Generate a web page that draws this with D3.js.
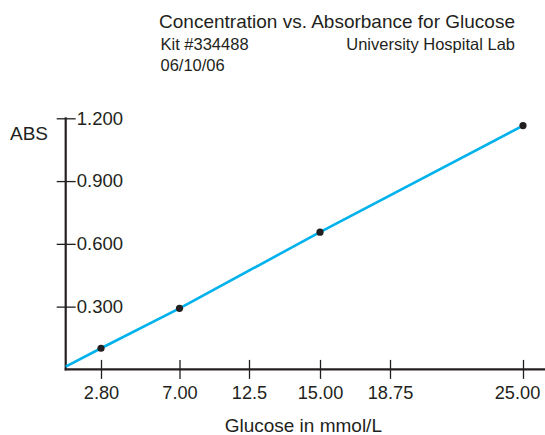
<!DOCTYPE html>
<html>
<head>
<meta charset="utf-8">
<script src="https://cdn.jsdelivr.net/npm/d3@7"></script>
<style>
  html, body { margin: 0; padding: 0; background: #fff; }
  svg { display: block; font-family: "Liberation Sans", Arial, Helvetica, sans-serif; }
</style>
</head>
<body>
<svg id="chart" width="545" height="435"></svg>
<script>
// ---- data ----
const glucose = [2.80, 7.00, 15.00, 25.00];          // mmol/L
const absorbance = [0.101, 0.292, 0.656, 1.165];     // ABS
const lineStart = [0, 0.013];                        // calibration line start
const xTickValues = [2.80, 7.00, 12.5, 15.00, 18.75, 25.00];
const xTickLabels = ["2.80", "7.00", "12.5", "15.00", "18.75", "25.00"];
const yTickValues = [0.3, 0.6, 0.9, 1.2];
const yTickLabels = ["0.300", "0.600", "0.900", "1.200"];
const titleText = "Concentration vs. Absorbance for Glucose";
const subLeft = ["Kit #334488", "06/10/06"];
const subRight = "University Hospital Lab";
const xTitle = "Glucose in mmol/L";
const yTitle = "ABS";

// ---- layout ----
const ink = "#231f20";
const svg = d3.select("#chart");
const x0 = 65.7, yBase = 369.4;

// the reference's x axis is not evenly spaced; piecewise linear scale through tick anchors
const x = d3.scaleLinear()
  .domain([0].concat(xTickValues))
  .range([x0, 101, 179.5, 249, 320, 390, 523]);
const y = d3.scaleLinear().domain([0, 1.2]).range([yBase, 118.3]);

// titles
svg.append("text").attr("x", 515).attr("y", 27.7).attr("text-anchor", "end")
  .attr("font-size", 19).attr("fill", ink).text(titleText);
svg.append("text").attr("x", 160.5).attr("y", 50).attr("font-size", 16.5).attr("fill", ink).text(subLeft[0]);
svg.append("text").attr("x", 160.5).attr("y", 70.7).attr("font-size", 16.5).attr("fill", ink).text(subLeft[1]);
svg.append("text").attr("x", 515).attr("y", 50).attr("text-anchor", "end")
  .attr("font-size", 16.5).attr("fill", ink).text(subRight);

// y axis
const yAxis = d3.axisRight(y).tickValues(yTickValues)
  .tickFormat((d, i) => yTickLabels[i]).tickSizeInner(10).tickSizeOuter(0).tickPadding(1);
const gy = svg.append("g").attr("transform", `translate(${x0},0)`).call(yAxis);
gy.select(".domain").remove();
gy.selectAll(".tick line").attr("x1", -9).attr("stroke", ink).attr("stroke-width", 1.3);
gy.selectAll(".tick text").attr("font-size", 18.5).attr("fill", ink)
  .attr("font-family", "Liberation Sans, Arial, sans-serif");
svg.append("line").attr("x1", x0).attr("x2", x0).attr("y1", y(1.2) - 1).attr("y2", yBase + 1)
  .attr("stroke", ink).attr("stroke-width", 2.2);

// x axis
const xAxis = d3.axisBottom(x).tickValues(xTickValues)
  .tickFormat((d, i) => xTickLabels[i]).tickSizeInner(9.5).tickSizeOuter(0).tickPadding(7);
const gx = svg.append("g").attr("transform", `translate(0,${yBase})`).call(xAxis);
gx.select(".domain").remove();
gx.selectAll(".tick line").attr("y1", -9.5).attr("stroke", ink).attr("stroke-width", 1.3);
gx.selectAll(".tick text").attr("font-size", 18.2).attr("fill", ink)
  .attr("font-family", "Liberation Sans, Arial, sans-serif")
  .attr("dx", (d, i) => i === xTickValues.length - 1 ? -6 : 0);
svg.append("line").attr("x1", x0 - 1).attr("x2", 545).attr("y1", yBase).attr("y2", yBase)
  .attr("stroke", ink).attr("stroke-width", 2.2);

// axis titles
svg.append("text").attr("x", 10).attr("y", 140).attr("font-size", 19).attr("fill", ink).text(yTitle);
svg.append("text").attr("x", 303.3).attr("y", 431.7).attr("text-anchor", "middle")
  .attr("font-size", 19).attr("fill", ink).text(xTitle);

// calibration line
const pts = [lineStart].concat(glucose.map((g, i) => [g, absorbance[i]]));
svg.append("path").datum(pts)
  .attr("d", d3.line().x(d => x(d[0])).y(d => y(d[1])))
  .attr("fill", "none").attr("stroke", "#00b2ec").attr("stroke-width", 2.6);

// data points
svg.selectAll("circle.pt").data(glucose).join("circle").attr("class", "pt")
  .attr("cx", d => x(d)).attr("cy", (d, i) => y(absorbance[i])).attr("r", 3.6)
  .attr("fill", ink);
</script>
</body>
</html>
